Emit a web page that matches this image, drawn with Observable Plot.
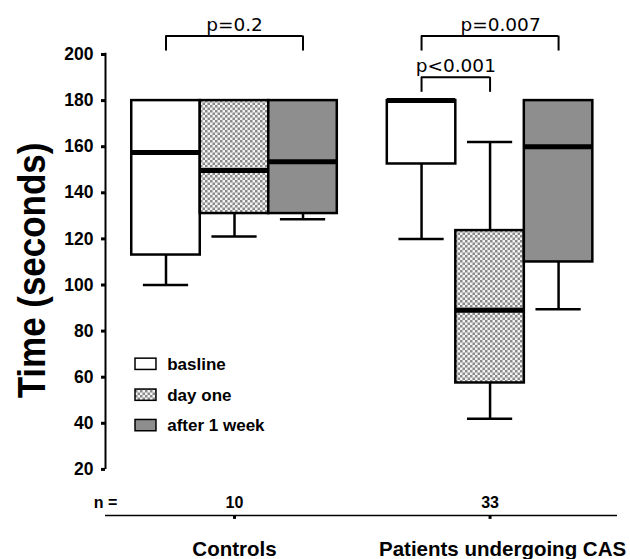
<!DOCTYPE html>
<html>
<head>
<meta charset="utf-8">
<script src="https://cdn.jsdelivr.net/npm/d3@7"></script>
<script src="https://cdn.jsdelivr.net/npm/@observablehq/plot@0.6"></script>
<style>
  html, body { margin: 0; padding: 0; background: #fff; }
  #chart { width: 630px; height: 559px; }
</style>
</head>
<body>
<div id="chart"></div>
<script>
// ---------- data ----------
const groups = ["Controls", "Patients undergoing CAS"];
const phases = ["basline", "day one", "after 1 week"];
const nValues = [10, 33];
// per group: [basline, day one, after 1 week]
const lowValues    = [[100, 121, 128.5], [120, 42, 89.5]];
const q1Values     = [[113, 131, 131], [152.5, 57.5, 110]];
const medianValues = [[157.5, 149.7, 153.5], [180, 89, 160]];
const q3Values     = [[180, 180, 180], [180, 123.6, 180]];
const highValues   = [[180, 180, 180], [180, 162, 180]];
const yTicks = [20, 40, 60, 80, 100, 120, 140, 160, 180, 200];
const pLabels = ["p=0.2", "p<0.001", "p=0.007"];
const pGroup = [0, 1, 1];
const pFrom = [0, 0, 0];
const pTo = [2, 1, 2];

// ---------- layout / style ----------
const groupGap = 0.73;           // gap between groups, in box widths
const pos = (g, p) => g * (phases.length + groupGap) + p;
const xDomain = [-0.883, pos(1, 2) + 0.86];
const capHalf = 0.33;
const bracketLevel = [208, 190.1, 208];
const bracketDrop = 6.5;
const pLabelDx = [0, 0, 10.5];
const groupLabelDx = [0, 12.5];
const legendX1 = -0.445, legendX2 = -0.139, legendTextX = 0.018;
const legendY = [65.6, 52.2, 39.0], legendHalf = 2.45;
const phaseFills = ["#ffffff", "url(#checker)", "#8e8e8e"];
const sans = "'Liberation Sans', Arial, sans-serif";

const boxes = groups.flatMap((g, gi) => phases.map((p, pi) => ({
  group: g, phase: p, x: pos(gi, pi),
  low: lowValues[gi][pi], q1: q1Values[gi][pi], median: medianValues[gi][pi],
  q3: q3Values[gi][pi], high: highValues[gi][pi]
})));
const upper = boxes.filter(d => d.high > d.q3);
const groupRows = groups.map((g, gi) => ({name: g, n: nValues[gi], center: pos(gi, 1), dx: groupLabelDx[gi]}));
const brackets = pLabels.map((label, i) => ({
  label, level: bracketLevel[i],
  x1: pos(pGroup[i], pFrom[i]), x2: pos(pGroup[i], pTo[i])
}));
const legs = brackets.flatMap(b => [{x: b.x1, level: b.level}, {x: b.x2, level: b.level}]);

const defs = () => {
  const d = d3.create("svg:defs");
  const p = d.append("pattern").attr("id", "checker").attr("patternUnits", "userSpaceOnUse")
    .attr("width", 5).attr("height", 5);
  p.append("rect").attr("width", 5).attr("height", 5).attr("fill", "#f4f4f4");
  p.append("rect").attr("width", 2.5).attr("height", 2.5).attr("fill", "#8a8a8a");
  p.append("rect").attr("x", 2.5).attr("y", 2.5).attr("width", 2.5).attr("height", 2.5).attr("fill", "#8a8a8a");
  return d.node();
};

const chart = Plot.plot({
  width: 630, height: 559,
  marginLeft: 105, marginRight: 13, marginTop: 54, marginBottom: 44,
  x: {domain: xDomain, axis: null},
  y: {domain: [0, 200], axis: null},
  color: {domain: phases, range: phaseFills},
  style: {fontFamily: sans, color: "black", background: "white", overflow: "visible"},
  marks: [
    defs,
    // axes
    Plot.ruleX([xDomain[0]], {y1: 20, y2: 200.5, strokeWidth: 2}),
    Plot.axisY(yTicks, {tickSize: 4, tickPadding: 8, strokeWidth: 3, fontSize: 17.5, fontWeight: "bold", fontFamily: sans, label: null}),
    Plot.ruleY([0], {strokeWidth: 1.5}),
    Plot.ruleX(groupRows, {x: "center", y1: 0, y2: -1.7, strokeWidth: 3}),
    Plot.text(["n ="], {frameAnchor: "bottom-left", textAnchor: "middle", lineAnchor: "middle", dy: -12.5, fontSize: 16, fontWeight: "bold"}),
    Plot.text(groupRows, {x: "center", y: 0, dy: -12.5, text: d => String(d.n), fontSize: 16, fontWeight: "bold"}),
    ...groupRows.map(r => Plot.text([r], {x: "center", y: 0, dy: 33.5, dx: r.dx, text: "name", fontSize: 20.5, fontWeight: "bold"})),
    Plot.text(["Time (seconds)"], {frameAnchor: "left", textAnchor: "middle", rotate: -90, dx: -60.5, dy: -14.5, lineAnchor: "bottom", fontSize: 38, fontWeight: "bold"}),
    // whiskers
    Plot.ruleX(boxes, {x: "x", y1: "low", y2: "q1", strokeWidth: 2.5}),
    Plot.ruleX(upper, {x: "x", y1: "q3", y2: "high", strokeWidth: 2.5}),
    Plot.ruleY(boxes, {y: "low", x1: d => d.x - capHalf, x2: d => d.x + capHalf, strokeWidth: 2.5}),
    Plot.ruleY(upper, {y: "high", x1: d => d.x - capHalf, x2: d => d.x + capHalf, strokeWidth: 2.5}),
    // boxes
    Plot.rect(boxes, {x1: d => d.x - 0.5, x2: d => d.x + 0.5, y1: "q1", y2: "q3", fill: "phase", stroke: "black", strokeWidth: 2.5}),
    Plot.ruleY(boxes, {y: "median", x1: d => d.x - 0.5, x2: d => d.x + 0.5, strokeWidth: 5}),
    // brackets
    Plot.ruleY(brackets, {y: "level", x1: "x1", x2: "x2", strokeWidth: 2}),
    Plot.ruleX(legs, {x: "x", y1: d => d.level - bracketDrop, y2: "level", strokeWidth: 2}),
    ...brackets.map((b, i) => Plot.text([b], {x: d => (d.x1 + d.x2) / 2, y: "level", dy: -5.5, dx: pLabelDx[i], lineAnchor: "bottom", text: "label", fontFamily: "'DejaVu Sans', sans-serif", fontSize: 18.5})),
    // legend
    Plot.rect(phases, {x1: legendX1, x2: legendX2, y1: (d, i) => legendY[i] - legendHalf, y2: (d, i) => legendY[i] + legendHalf, fill: d => d, stroke: "black", strokeWidth: 1.5}),
    Plot.text(phases, {x: legendTextX, y: (d, i) => legendY[i], text: d => d, textAnchor: "start", fontSize: 17, fontWeight: "bold"})
  ]
});

d3.select(chart).selectAll("text")
  .filter(function () { return this.textContent === "Time (seconds)"; })
  .attr("transform", function () { return (this.getAttribute("transform") || "") + " scale(0.92,1)"; });

document.getElementById("chart").appendChild(chart);
</script>
</body>
</html>
